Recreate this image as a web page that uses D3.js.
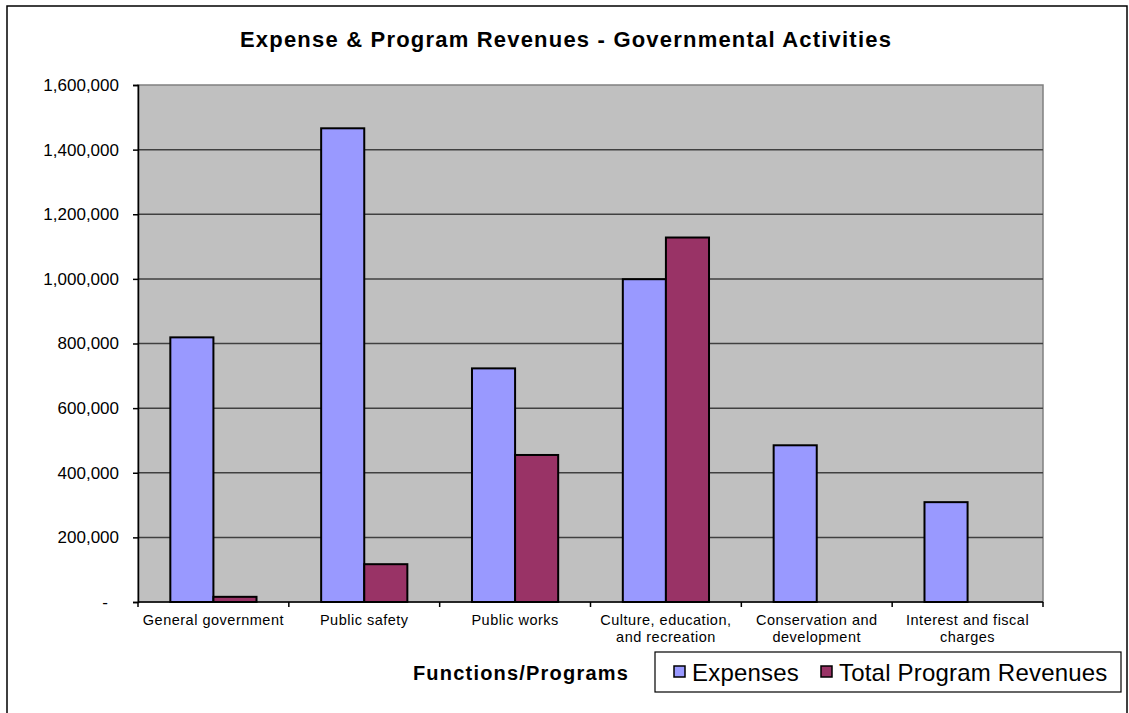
<!DOCTYPE html>
<html>
<head>
<meta charset="utf-8">
<script src="https://d3js.org/d3.v7.min.js"></script>
<style>
  body { margin: 0; background: #fff; }
  text { font-family: "Liberation Sans", Arial, sans-serif; }
</style>
</head>
<body>
<div id="chart"></div>
<script>
// data
var categories = [
  ["General government"],
  ["Public safety"],
  ["Public works"],
  ["Culture, education,", "and recreation"],
  ["Conservation and", "development"],
  ["Interest and fiscal", "charges"]
];
var seriesNames = ["Expenses", "Total Program Revenues"];
var expenses = [819000, 1466000, 723000, 999000, 485000, 309000];
var revenues = [16000, 117000, 455000, 1128000, 0, 0];
var yTicks = [0, 200000, 400000, 600000, 800000, 1000000, 1200000, 1400000, 1600000];
var colors = ["#9999FF", "#993366"];

var W = 1129, H = 713;
// plot area
var margin = {top: 85, left: 138, right: 86, bottom: 111};
var width = W - margin.left - margin.right,
    height = H - margin.top - margin.bottom;

var svg = d3.select("#chart").append("svg")
  .attr("width", W)
  .attr("height", H);

// outer frame
svg.append("rect")
  .attr("x", 7).attr("y", 6)
  .attr("width", 1120).attr("height", 720)
  .attr("fill", "none")
  .attr("stroke", "#000")
  .attr("stroke-width", 1.5);

svg.append("text")
  .attr("x", 566).attr("y", 47)
  .attr("text-anchor", "middle")
  .style("font-weight", "bold")
  .style("font-size", "22px")
  .style("letter-spacing", "1.2px")
  .text("Expense & Program Revenues - Governmental Activities");

var g = svg.append("g")
  .attr("transform", "translate(" + margin.left + "," + margin.top + ")");

var keys = categories.map(function(d, i) { return i; });

var x0 = d3.scaleBand().domain(keys).range([0, width]).padding(0);
var x1 = d3.scaleBand().domain([0, 1]).range([0, x0.bandwidth()])
  .paddingInner(0).paddingOuter(0.75);
var y = d3.scaleLinear().domain([0, 1600000]).range([height, 0]);

// plot background
g.append("rect")
  .attr("width", width).attr("height", height)
  .attr("fill", "#C0C0C0")
  .attr("stroke", "#808080")
  .attr("stroke-width", 1.5);

// gridlines
g.selectAll(".grid")
  .data(yTicks.slice(1, -1))
  .enter().append("line")
  .attr("class", "grid")
  .attr("x1", 0).attr("x2", width)
  .attr("y1", function(d) { return y(d); })
  .attr("y2", function(d) { return y(d); })
  .attr("stroke", "#404040")
  .attr("stroke-width", 1.5);

// bars
var data = keys.map(function(i) {
  return {cat: i, vals: [expenses[i], revenues[i]]};
});

var groups = g.selectAll(".cat")
  .data(data)
  .enter().append("g")
  .attr("class", "cat")
  .attr("transform", function(d) { return "translate(" + x0(d.cat) + ",0)"; });

groups.selectAll("rect")
  .data(function(d) {
    return d.vals.map(function(v, s) { return {s: s, v: v}; }).filter(function(d) { return d.v > 0; });
  })
  .enter().append("rect")
  .attr("x", function(d) { return x1(d.s); })
  .attr("y", function(d) { return y(d.v); })
  .attr("width", x1.bandwidth())
  .attr("height", function(d) { return height - y(d.v); })
  .attr("fill", function(d) { return colors[d.s]; })
  .attr("stroke", "#000")
  .attr("stroke-width", 2);

// y axis
var yAxis = d3.axisLeft(y)
  .tickValues(yTicks)
  .tickSize(5)
  .tickPadding(14)
  .tickFormat(function(d) { return d === 0 ? "-" : d3.format(",")(d); });

var ya = g.append("g").call(yAxis);
ya.select(".domain").attr("stroke", "#000").attr("stroke-width", 1.5);
ya.selectAll(".tick line").attr("stroke", "#000").attr("stroke-width", 1.5);
ya.selectAll(".tick text")
  .style("font-size", "17px")
  .attr("fill", "#000");
ya.selectAll(".tick text").filter(function(d) { return d === 0; })
  .attr("dx", "-11");

// x axis line and category ticks
g.append("line")
  .attr("x1", 0).attr("x2", width)
  .attr("y1", height).attr("y2", height)
  .attr("stroke", "#000").attr("stroke-width", 1.5);

g.selectAll(".xtick")
  .data(d3.range(categories.length + 1))
  .enter().append("line")
  .attr("x1", function(i) { return i * x0.step(); })
  .attr("x2", function(i) { return i * x0.step(); })
  .attr("y1", height).attr("y2", height + 5)
  .attr("stroke", "#000").attr("stroke-width", 1.5);

var xl = g.selectAll(".xlab")
  .data(data)
  .enter().append("text")
  .attr("class", "xlab")
  .attr("text-anchor", "middle")
  .attr("transform", function(d) { return "translate(" + (x0(d.cat) + x0.bandwidth() / 2) + "," + (height + 23) + ")"; })
  .style("font-size", "14.5px")
  .style("letter-spacing", "0.5px")
  .attr("fill", "#000");

xl.selectAll("tspan")
  .data(function(d) { return categories[d.cat]; })
  .enter().append("tspan")
  .attr("x", 0)
  .attr("dy", function(d, i) { return i === 0 ? 0 : 17; })
  .text(function(d) { return d; });

// axis title
svg.append("text")
  .attr("x", 521).attr("y", 680)
  .attr("text-anchor", "middle")
  .style("font-weight", "bold")
  .style("font-size", "20px")
  .style("letter-spacing", "1.2px")
  .text("Functions/Programs");

// legend
var legend = svg.append("g");
legend.append("rect")
  .attr("x", 655).attr("y", 652)
  .attr("width", 466).attr("height", 40)
  .attr("fill", "#fff")
  .attr("stroke", "#000")
  .attr("stroke-width", 1.2);

var legX = [674, 821];
var items = legend.selectAll(".leg")
  .data(seriesNames)
  .enter().append("g")
  .attr("class", "leg")
  .attr("transform", function(d, i) { return "translate(" + legX[i] + ",672)"; });

items.append("rect")
  .attr("x", 0).attr("y", -6)
  .attr("width", 11).attr("height", 11)
  .attr("fill", function(d, i) { return colors[i]; })
  .attr("stroke", "#000")
  .attr("stroke-width", 1.5);

items.append("text")
  .attr("x", 18).attr("y", 9)
  .style("font-size", "24px")
  .style("letter-spacing", "0.2px")
  .text(function(d) { return d; });
</script>
</body>
</html>
